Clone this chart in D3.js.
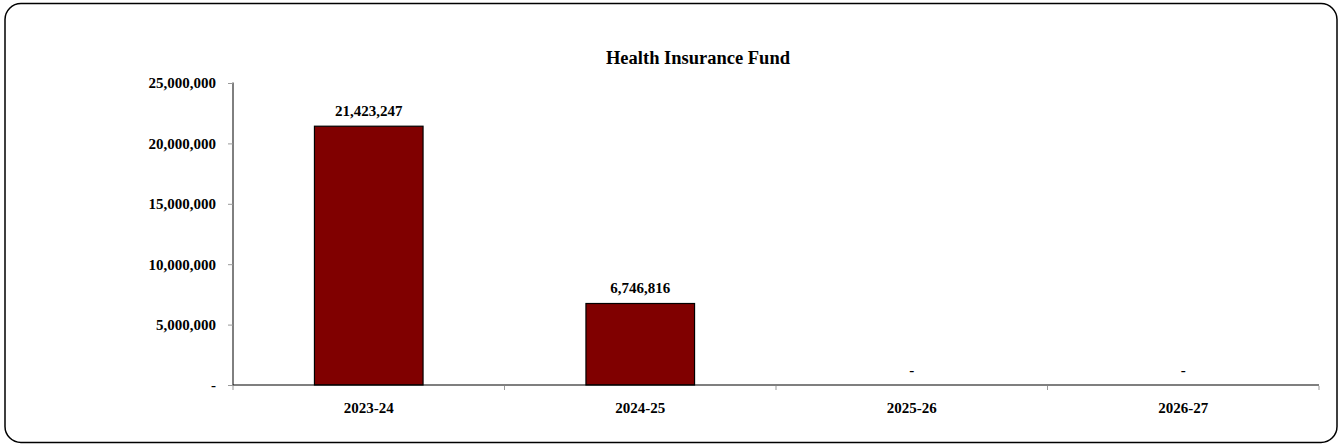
<!DOCTYPE html>
<html>
<head>
<meta charset="utf-8">
<script src="https://cdn.jsdelivr.net/npm/d3@7"></script>
<style>
  body { margin: 0; background: #fff; }
  text { font-family: "Liberation Serif", "Times New Roman", serif; font-weight: bold; fill: #000; }
</style>
</head>
<body>
<svg id="chart"></svg>
<script>
// data
let years = ["2023-24", "2024-25", "2025-26", "2026-27"];
let values = [21423247, 6746816, 0, 0];
let yTicks = [0, 5000000, 10000000, 15000000, 20000000, 25000000];

let width = 1341, height = 447;
let margin = {left: 233, right: 22, top: 83, bottom: 62};

let svg = d3.select("#chart")
    .attr("width", width)
    .attr("height", height);

// rounded frame
svg.append("rect")
    .attr("x", 5).attr("y", 3.5)
    .attr("width", 1332).attr("height", 439)
    .attr("rx", 16)
    .attr("fill", "#fff")
    .attr("stroke", "#000")
    .attr("stroke-width", 1.5);

let x = d3.scaleBand()
    .domain(years)
    .range([margin.left, width - margin.right])
    .paddingInner(0.6)
    .paddingOuter(0.3);

let y = d3.scaleLinear()
    .domain([0, 25000000])
    .range([height - margin.bottom, margin.top]);

let fmt = d3.format(",");
let label = v => v === 0 ? "-" : fmt(v);

// title
svg.append("text")
    .attr("x", 698).attr("y", 64)
    .attr("text-anchor", "middle")
    .style("font-size", "18.5px")
    .text("Health Insurance Fund");

// y axis
let yAxis = svg.append("g")
    .attr("transform", "translate(" + margin.left + ",0)")
    .call(d3.axisLeft(y).tickValues(yTicks).tickFormat(label).tickSize(5).tickPadding(12));
yAxis.select(".domain").attr("stroke", "#000").attr("d", "M0," + y(0) + "V" + (y(25000000) - 0.5));
yAxis.selectAll(".tick line").attr("stroke", "#999");
yAxis.selectAll(".tick text").style("font-size", "15px").attr("fill", "#000");

// bars
svg.selectAll(".bar")
    .data(values)
    .enter().append("rect")
    .attr("class", "bar")
    .attr("x", (d, i) => x(years[i]))
    .attr("y", d => y(d))
    .attr("width", x.bandwidth())
    .attr("height", d => y(0) - y(d))
    .attr("fill", "#800000")
    .attr("stroke", d => d === 0 ? "none" : "#000")
    .attr("stroke-width", 1.2);

// value labels
svg.selectAll(".val")
    .data(values)
    .enter().append("text")
    .attr("class", "val")
    .attr("x", (d, i) => x(years[i]) + x.bandwidth() / 2)
    .attr("y", d => y(d) - 10)
    .attr("text-anchor", "middle")
    .style("font-size", "15px")
    .text(label);

// x axis
let xAxisG = svg.append("g")
    .attr("transform", "translate(0," + y(0) + ")");
xAxisG.append("line")
    .attr("x1", margin.left).attr("x2", width - margin.right)
    .attr("stroke", "#000").attr("stroke-width", 1.2);
let bounds = d3.range(years.length + 1).map(i => margin.left + i * x.step());
xAxisG.selectAll(".xt")
    .data(bounds)
    .enter().append("line")
    .attr("x1", d => d).attr("x2", d => d)
    .attr("y1", 1).attr("y2", 5)
    .attr("stroke", "#999");
xAxisG.selectAll(".xl")
    .data(years)
    .enter().append("text")
    .attr("x", d => x(d) + x.bandwidth() / 2)
    .attr("y", 28)
    .attr("text-anchor", "middle")
    .style("font-size", "15px")
    .text(d => d);
</script>
</body>
</html>
